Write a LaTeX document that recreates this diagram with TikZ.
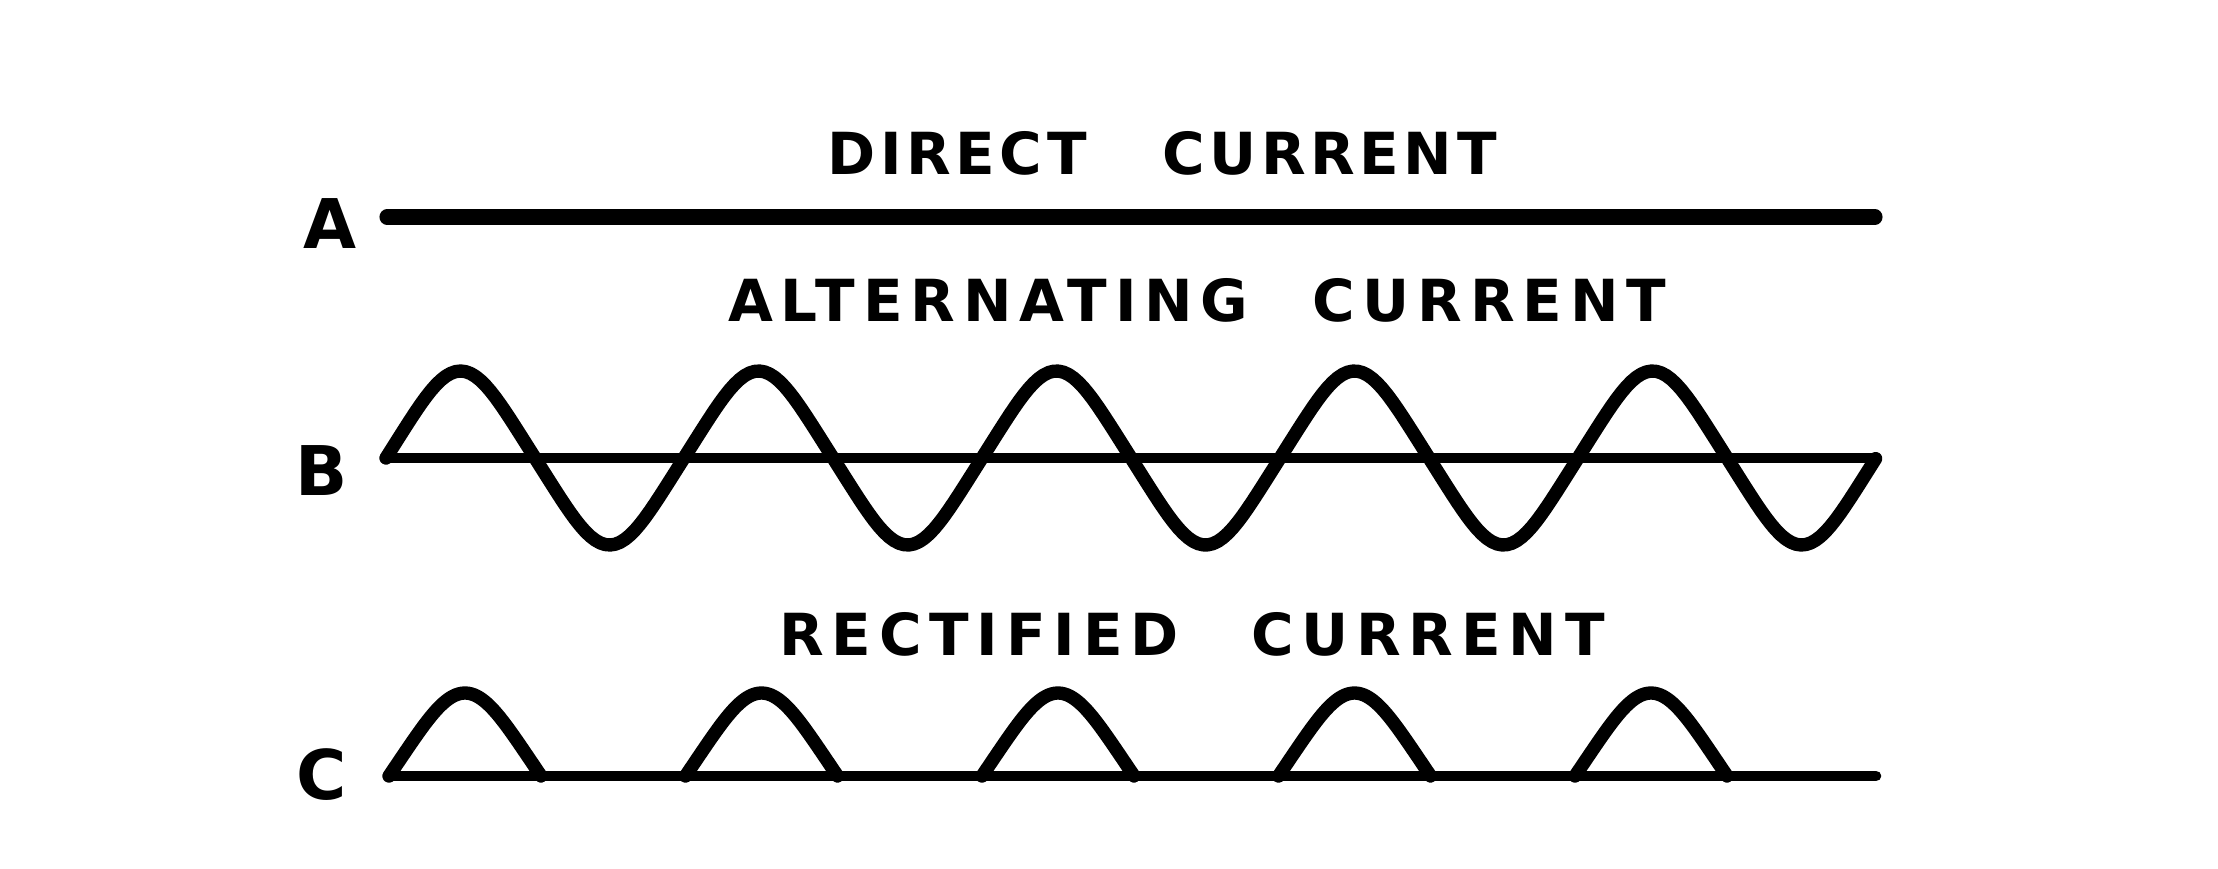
\documentclass[tikz,border=0pt]{standalone}
\usepackage{fontspec}
\setmainfont{DejaVu Sans}
\newfontfamily\plate[LetterSpace=8]{DejaVu Sans}
\newfontfamily\platewide[LetterSpace=13.5]{DejaVu Sans}
\begin{document}
\begin{tikzpicture}[
  caption/.style={font=\plate\bfseries\fontsize{16.5}{18}\selectfont},
  widecaption/.style={font=\platewide\bfseries\fontsize{16.5}{18}\selectfont},
  letter/.style={font=\bfseries\fontsize{19.5}{22}\selectfont},
  heavyline/.style={line width=4.3pt, line cap=round},
  axisline/.style={line width=3pt, line cap=round},
  waveline/.style={line width=3.8pt, line cap=round, line join=round}]
\useasboundingbox (0,0) rectangle (22.18,8.68);
% labels
\node[letter] (la) at (3.30,6.44) {A};
\node[letter] (lb) at (3.22,3.97) {B};
\node[letter] (lc) at (3.22,0.93) {C};
\node[caption] (dc) at (11.62,7.15) {DIRECT\hspace{1.3em}CURRENT};
\node[widecaption] (ac) at (11.97,5.68) {ALTERNATING\hspace{1.1em}CURRENT};
\node[widecaption] (rc) at (11.92,2.34) {RECTIFIED\hspace{1.25em}CURRENT};
% A
\draw[heavyline] (3.87,6.51) -- (18.75,6.51);
% B
\draw[axisline] (3.86,4.10) -- (18.76,4.10);
\draw[waveline] plot[domain=0:14.9, samples=300]
  ({3.86+\x}, {4.10+0.87*(sin(\x/2.98*360)-0.035*sin(3*\x/2.98*360))/1.035});
% C
\draw[axisline] (3.89,0.92) -- (18.76,0.92);
\foreach \k in {0,...,4}
  \draw[waveline] plot[domain=0:1.52, samples=60]
    ({3.89+\k*2.965+\x}, {0.92+0.83*(sin(\x/1.52*180)-0.035*sin(3*\x/1.52*180))/1.035});
\end{tikzpicture}
\end{document}
